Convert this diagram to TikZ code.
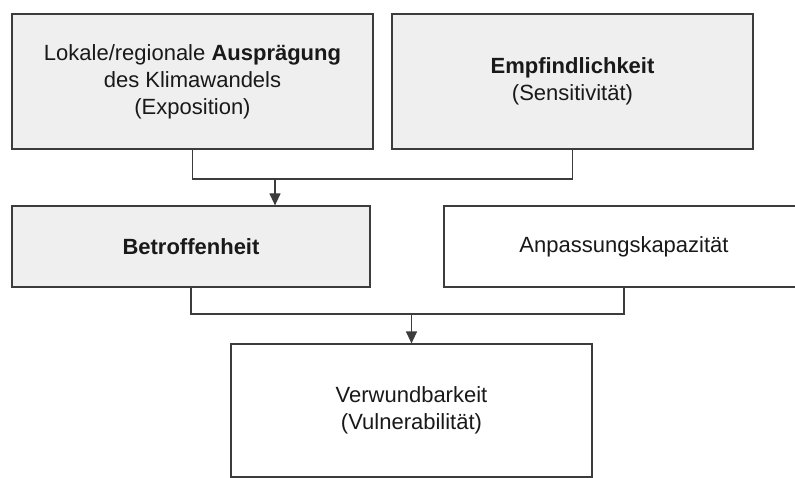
\documentclass[tikz,border=0pt]{standalone}
\usepackage{fontspec}
\setmainfont{Liberation Sans}
\usetikzlibrary{arrows.meta}

\definecolor{boxgray}{HTML}{EFEFEF}
\definecolor{edgegray}{HTML}{3C3C3C}

\tikzset{
  box/.style = {draw=edgegray, line width=1.2pt, align=center, inner sep=0pt,
                text=black!90, font=\fontsize{22}{27}\selectfont},
  graybox/.style = {box, fill=boxgray},
  whitebox/.style = {box, fill=white},
  line/.style = {draw=edgegray, line width=1.2pt},
  arrow/.style = {line, -{Triangle[width=11pt,length=12pt]}}
}

\begin{document}
\begin{tikzpicture}[x=1pt,y=-1pt]
\clip (0,0) rectangle (795,478);
\useasboundingbox (0,0) rectangle (795,478);
\fill[white] (0,0) rectangle (795,478);
% top row
\node[graybox, minimum width=361pt, minimum height=135pt] (expo) at (192.5,81.5)
  {Lokale/regionale \textbf{Ausprägung}\\des Klimawandels\\(Exposition)};
\node[graybox, minimum width=361pt, minimum height=135pt] (sens) at (572.5,81.5)
  {\textbf{Empfindlichkeit}\\(Sensitivität)};
% middle row
\node[graybox, minimum width=358pt, minimum height=81pt] (betr) at (191,246.5)
  {\textbf{Betroffenheit}};
\node[whitebox, minimum width=360pt, minimum height=81pt] (anpa) at (624,246.5)
  {Anpassungskapazität};
% bottom
\node[whitebox, minimum width=361pt, minimum height=133pt] (verw) at (411.5,410.5)
  {Verwundbarkeit\\(Vulnerabilität)};
% connectors
\coordinate (j1) at (275,179);
\coordinate (j2) at (411.5,314);
\draw[line] (expo.south) |- (j1) -| (sens.south);
\draw[arrow] (j1) -- (j1 |- betr.north);
\draw[line] (betr.south) |- (j2) -| (anpa.south);
\draw[arrow] (j2) -- (verw.north);
\end{tikzpicture}
\end{document}
